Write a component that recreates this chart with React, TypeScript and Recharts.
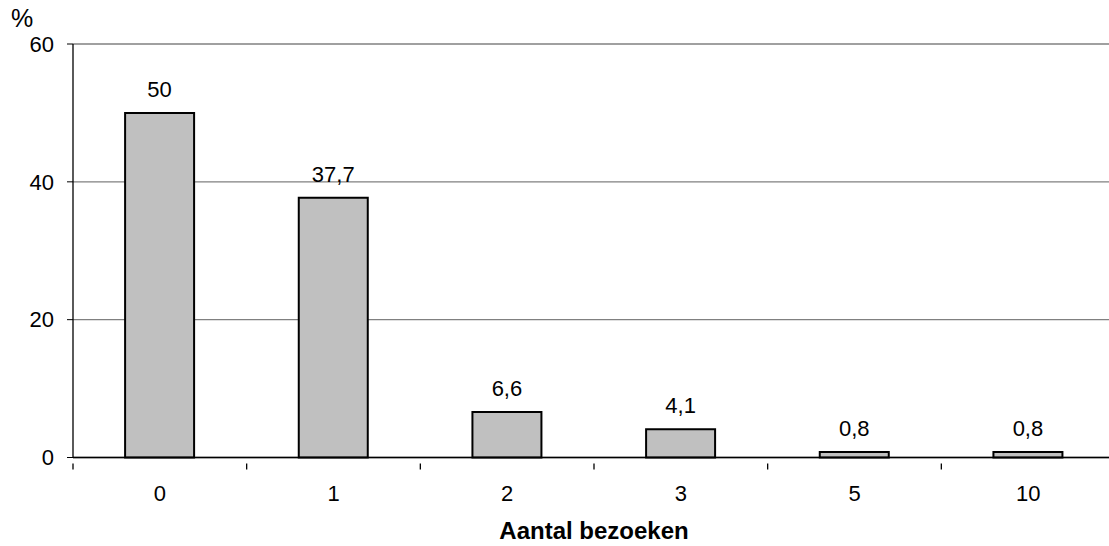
import { BarChart, Bar, XAxis, YAxis, CartesianGrid, LabelList } from "recharts"

const categories = ["0", "1", "2", "3", "5", "10"]
const percentages = [50, 37.7, 6.6, 4.1, 0.8, 0.8]
const yTicks = [0, 20, 40, 60]

const chartData = categories.map((name, i) => ({ name, value: percentages[i] }))

const font = "'Liberation Sans', Arial, sans-serif"
const CHART_W = 1115
const Y_AXIS_W = 73
const band = (CHART_W - Y_AXIS_W) / categories.length

const formatComma = (v: number | string) => String(v).replace(".", ",")

// category label in the middle, small tick mark on the left boundary of each band
function CategoryTick(props: any) {
  const { x, y, payload } = props
  const axisY = y - 21
  return (
    <g>
      <line x1={x - band / 2} x2={x - band / 2} y1={axisY} y2={axisY + 6} stroke="#000" strokeWidth={1.3} />
      <text x={x} y={y} dy={16} textAnchor="middle" fontSize={22} fill="#000" fontFamily={font}>
        {payload.value}
      </text>
    </g>
  )
}

export default function App() {
  return (
    <div style={{ position: "absolute", left: 0, top: 0, width: 1109, height: 546, overflow: "hidden", background: "#fff", fontFamily: font }}>
      <div style={{ position: "absolute", left: 11, top: 5, fontSize: 25, color: "#000", lineHeight: "26px" }}>%</div>
      <BarChart
        width={CHART_W}
        height={546}
        data={chartData}
        margin={{ top: 44, right: 0, left: 0, bottom: 0 }}
        barCategoryGap="30%"
        style={{ fontFamily: font }}
      >
        <CartesianGrid vertical={false} stroke="#808080" strokeWidth={1.3} />
        <XAxis
          dataKey="name"
          height={88.5}
          axisLine={{ stroke: "#000", strokeWidth: 1.3 }}
          tickLine={false}
          tickMargin={21}
          tick={<CategoryTick />}
          interval={0}
          label={{ value: "Aantal bezoeken", position: "insideBottom", offset: 7, fontSize: 24, fontWeight: "bold", fill: "#000" }}
        />
        <YAxis
          width={Y_AXIS_W}
          domain={[0, 60]}
          ticks={yTicks}
          axisLine={{ stroke: "#000", strokeWidth: 1.3 }}
          tickLine={{ stroke: "#000" }}
          tickSize={6}
          tickMargin={13}
          tick={{ fontSize: 22, fill: "#000" }}
          interval={0}
        />
        <Bar dataKey="value" fill="#C0C0C0" stroke="#000" strokeWidth={2} isAnimationActive={false}>
          <LabelList dataKey="value" position="top" offset={16} formatter={formatComma} style={{ fontSize: 22, fill: "#000" }} />
        </Bar>
      </BarChart>
    </div>
  )
}
